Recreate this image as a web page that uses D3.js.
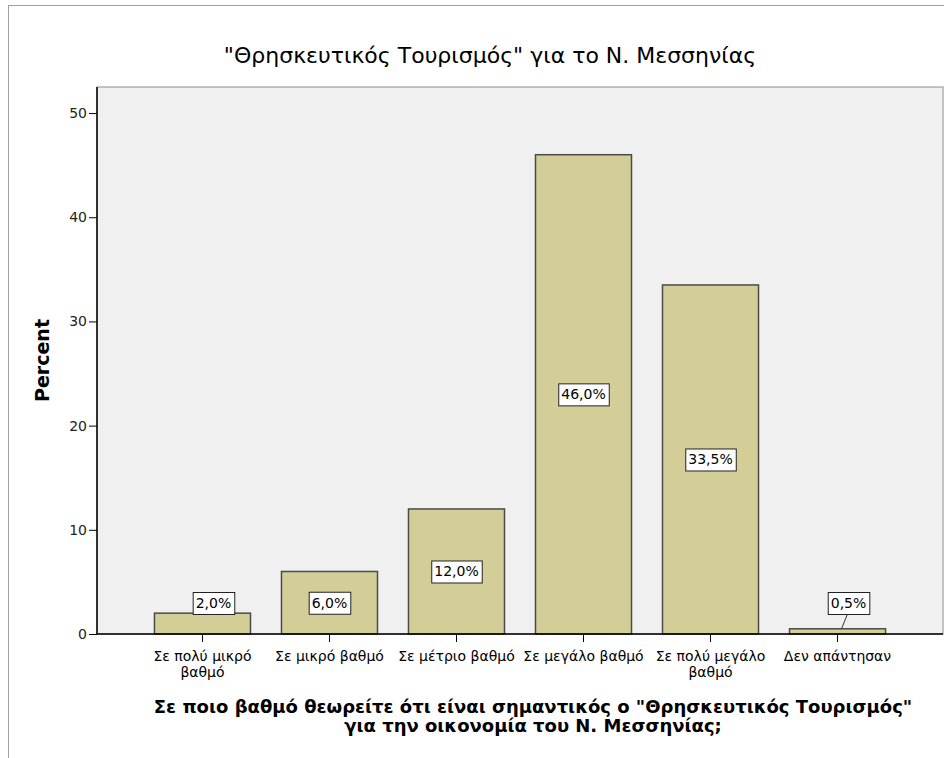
<!DOCTYPE html>
<html>
<head>
<meta charset="utf-8">
<script src="https://cdn.jsdelivr.net/npm/d3@7"></script>
<style>
  body { margin: 0; background: #fff; }
  svg text { font-family: "DejaVu Sans", Verdana, sans-serif; }
</style>
</head>
<body>
<div id="app"></div>
<script>
const categories = [
  ['Σε πολύ μικρό', 'βαθμό'],
  ['Σε μικρό βαθμό'],
  ['Σε μέτριο βαθμό'],
  ['Σε μεγάλο βαθμό'],
  ['Σε πολύ μεγάλο', 'βαθμό'],
  ['Δεν απάντησαν'],
];
const percents = [2.0, 6.0, 12.0, 46.0, 33.5, 0.5];
const yTicks = [0, 10, 20, 30, 40, 50];
const chartTitle = '"Θρησκευτικός Τουρισμός" για το Ν. Μεσσηνίας';
const yTitle = 'Percent';
const xTitle = [
  'Σε ποιο βαθμό θεωρείτε ότι είναι σημαντικός ο "Θρησκευτικός Τουρισμός"',
  'για την οικονομία του Ν. Μεσσηνίας;',
];

const width = 944;
const height = 758;
const plot = { left: 97, top: 87, right: 943, bottom: 634 };

const svg = d3
  .select('#app')
  .append('svg')
  .attr('width', width)
  .attr('height', height);

// outer frame (cut off at right and bottom like the original)
svg
  .append('rect')
  .attr('x', 8.5)
  .attr('y', 5.5)
  .attr('width', 960)
  .attr('height', 800)
  .attr('fill', '#fff')
  .attr('stroke', '#a0a0a0');

const x = d3
  .scaleBand()
  .domain(d3.range(categories.length))
  .range([plot.left, plot.right])
  .paddingInner(0.244)
  .paddingOuter(0.4525);

const y = d3.scaleLinear().domain([0, 52.5]).range([plot.bottom, plot.top]);

// plot background
svg
  .append('rect')
  .attr('x', plot.left)
  .attr('y', plot.top)
  .attr('width', plot.right - plot.left)
  .attr('height', plot.bottom - plot.top)
  .attr('fill', '#f0f0f0')
  .attr('stroke', '#8c8c8c');

svg
  .append('text')
  .attr('x', 490)
  .attr('y', 63)
  .attr('text-anchor', 'middle')
  .attr('font-size', '22px')
  .attr('fill', '#000')
  .text(chartTitle);

// bars
svg
  .append('g')
  .selectAll('rect')
  .data(percents)
  .enter()
  .append('rect')
  .attr('x', (d, i) => x(i))
  .attr('y', (d) => y(d))
  .attr('width', x.bandwidth())
  .attr('height', (d) => y(0) - y(d))
  .attr('fill', '#d3ce97')
  .attr('stroke', '#4a4a4a')
  .attr('stroke-width', 1.5);

// axes
const yAxis = svg
  .append('g')
  .attr('transform', `translate(${plot.left},0)`)
  .call(d3.axisLeft(y).tickValues(yTicks).tickSize(8).tickPadding(2));
yAxis.select('.domain').remove();
yAxis.selectAll('text').attr('font-size', '14px').attr('fill', '#222').attr('font-family', null);
yAxis.selectAll('line').attr('stroke', '#000');

svg
  .append('line')
  .attr('x1', plot.left)
  .attr('x2', plot.left)
  .attr('y1', plot.top)
  .attr('y2', plot.bottom)
  .attr('stroke', '#000')
  .attr('stroke-width', 1.5);

const xAxis = svg
  .append('g')
  .attr('transform', `translate(0,${plot.bottom})`)
  .call(d3.axisBottom(x).tickSize(8).tickFormat(''));
xAxis.select('.domain').remove();
xAxis.selectAll('line').attr('stroke', '#000');

svg
  .append('line')
  .attr('x1', plot.left)
  .attr('x2', plot.right)
  .attr('y1', plot.bottom)
  .attr('y2', plot.bottom)
  .attr('stroke', '#000')
  .attr('stroke-width', 1.5);

// category labels
const catText = svg
  .append('g')
  .selectAll('text')
  .data(categories)
  .enter()
  .append('text')
  .attr('text-anchor', 'middle')
  .attr('font-size', '14px')
  .attr('fill', '#000');
catText
  .selectAll('tspan')
  .data((d, i) => d.map((s) => ({ s, i })))
  .enter()
  .append('tspan')
  .attr('x', (d) => x(d.i) + x.bandwidth() / 2)
  .attr('y', (d, j) => 661 + j * 16)
  .text((d) => d.s);

// value labels
const fmt = (v) => d3.format('.1f')(v).replace('.', ',') + '%';
const labels = svg.append('g');
percents.forEach((v, i) => {
  const cx = x(i) + x.bandwidth() / 2;
  let ly = y(v / 2);
  let lx = cx;
  const minY = plot.bottom - 31;
  const shifted = ly > minY;
  if (shifted) {
    ly = minY;
    lx = cx + 11;
  }
  const g = labels.append('g');
  const t = g
    .append('text')
    .attr('x', lx)
    .attr('y', ly + 5)
    .attr('text-anchor', 'middle')
    .attr('font-size', '14px')
    .attr('fill', '#000')
    .text(fmt(v));
  const w = t.node().getComputedTextLength() + 6;
  const h = 22;
  if (shifted && ly + h / 2 < y(v) - 2) {
    g.insert('line', 'text')
      .attr('x1', lx - 1)
      .attr('y1', ly + h / 2)
      .attr('x2', cx + 4)
      .attr('y2', y(v))
      .attr('stroke', '#333');
  }
  g.insert('rect', 'text')
    .attr('x', lx - w / 2 + 0.5)
    .attr('y', ly - h / 2 + 0.5)
    .attr('width', w)
    .attr('height', h)
    .attr('fill', '#fff')
    .attr('stroke', '#222');
});

// axis titles
svg
  .append('text')
  .attr('transform', `translate(49,${(plot.top + plot.bottom) / 2}) rotate(-90)`)
  .attr('text-anchor', 'middle')
  .attr('font-size', '19px')
  .attr('font-weight', 'bold')
  .attr('fill', '#000')
  .text(yTitle);

svg
  .append('text')
  .attr('text-anchor', 'middle')
  .attr('font-size', '18px')
  .attr('font-weight', 'bold')
  .attr('fill', '#000')
  .selectAll('tspan')
  .data(xTitle)
  .enter()
  .append('tspan')
  .attr('x', 533)
  .attr('y', (d, i) => 713 + i * 19)
  .text((d) => d);
</script>
</body>
</html>
